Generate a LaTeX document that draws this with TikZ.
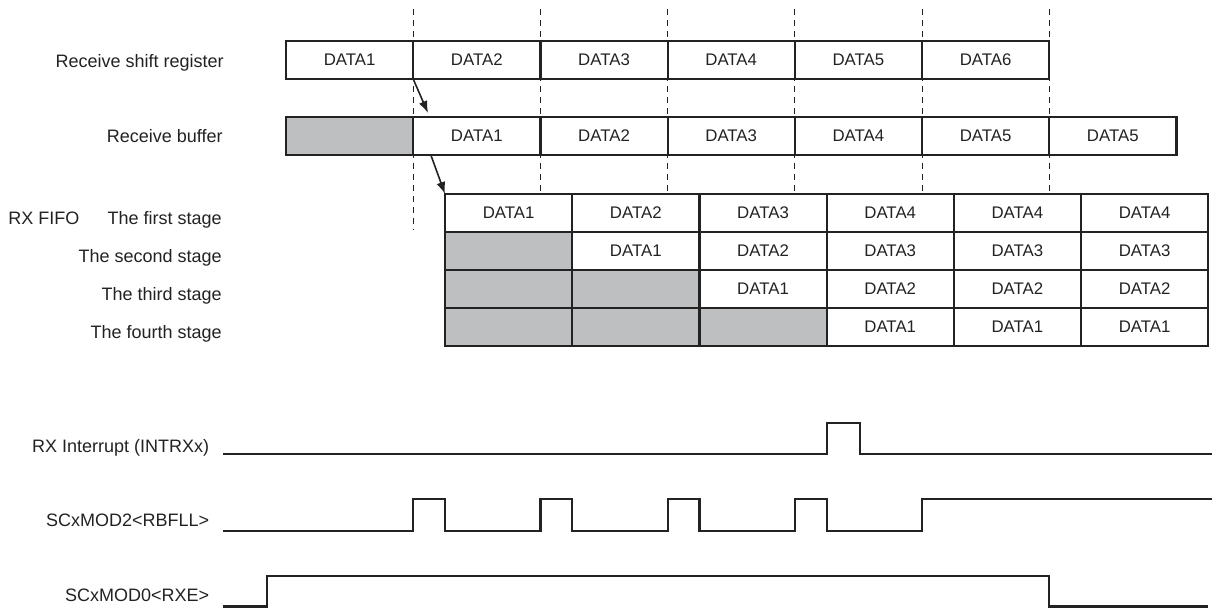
\documentclass[tikz,border=0pt]{standalone}
\usepackage{fontspec}
\setmainfont{Liberation Sans}
\usetikzlibrary{arrows.meta}
\definecolor{cellgray}{RGB}{190,191,193}
\definecolor{inkgray}{RGB}{34,34,34}

\begin{document}
\begin{tikzpicture}[x=0.5pt,y=-0.5pt,
    cell/.style={draw=inkgray,line width=1.1pt,minimum width=63.6pt,minimum height=19pt,inner sep=0pt,outer sep=0pt,anchor=north west,font=\fontsize{8.4}{10}\selectfont,text=inkgray},
    lbl/.style={anchor=base east,inner sep=0pt,font=\fontsize{9}{11}\selectfont,text=inkgray},
    slot/.style={draw=inkgray,line width=0.5pt,dash pattern=on 3pt off 2.5pt},
    move/.style={draw=inkgray,-{Latex[length=6pt,width=4.5pt]},line width=0.8pt},
    wave/.style={draw=inkgray,line width=1.1pt}]
    \useasboundingbox (0,0) rectangle (1213,608);
    %dashed time marks
    \foreach \t in {540.4,667.6,794.8,922,1049.2} \draw[slot] (\t,9)--(\t,194);
    \draw[slot] (413.2,9)--(413.2,230);
    %receive shift register
    \node[lbl] (lsr) at (224,68) {Receive shift register};
    \foreach \d [count=\i] in {DATA1,DATA2,DATA3,DATA4,DATA5,DATA6}
        \node[cell] (sr\i) at ({286+127.2*(\i-1)},41) {\d};
    %receive buffer
    \node[lbl] (lrb) at (223,143) {Receive buffer};
    \node[cell,fill=cellgray] (rb0) at (286,117) {};
    \foreach \d [count=\i] in {DATA1,DATA2,DATA3,DATA4,DATA5,DATA5}
        \node[cell] (rb\i) at ({413.2+127.2*(\i-1)},117) {\d};
    %RX FIFO
    \node[lbl,anchor=base west] (lfifo) at (8,225) {RX FIFO};
    \node[lbl] (lst1) at (222,225) {The first stage};
    \node[lbl] (lst2) at (222,263) {The second stage};
    \node[lbl] (lst3) at (222,301) {The third stage};
    \node[lbl] (lst4) at (222,339) {The fourth stage};
    \fill[cellgray] (445,232) -| (572.2,270) -| (699.4,308) -| (826.6,346) -- (445,346) -- cycle; %empty stages
    \foreach \r/\row in {1/{DATA1,DATA2,DATA3,DATA4,DATA4,DATA4},
                         2/{{},DATA1,DATA2,DATA3,DATA3,DATA3},
                         3/{{},{},DATA1,DATA2,DATA2,DATA2},
                         4/{{},{},{},DATA1,DATA1,DATA1}}
        \foreach \d [count=\c] in \row
            \node[cell] (f\r\c) at ({445+127.2*(\c-1)},{194+38*(\r-1)}) {\d};
    %transfers
    \draw[move] (sr1.south east) -- ([xshift=7.4pt,yshift=2pt]rb1.north west);
    \draw[move] ([xshift=9pt,yshift=-0.5pt]rb1.south west) -- (f11.north west);
    %signals
    \node[lbl] (lint) at (209.5,452) {RX Interrupt (INTRXx)};
    \draw[wave] (223,454) -| (826.6,423) -| (860,454) -- (1212,454);
    \node[lbl] (lrbfll) at (209.5,526) {SCxMOD2<RBFLL>};
    \draw[wave] (223,531) -| (413.2,499) -| (445,531) -| (540.4,499) -| (572.2,531) -| (667.6,499) -| (699.4,531) -| (794.8,499) -| (826.6,531) -| (922,499) -- (1212,499);
    \node[lbl] (lrxe) at (209.5,601) {SCxMOD0<RXE>};
    \draw[wave] (223,606.5) -| (267,576) -| (1049.2,606.5) -- (1208,606.5);
\end{tikzpicture}
\end{document}
